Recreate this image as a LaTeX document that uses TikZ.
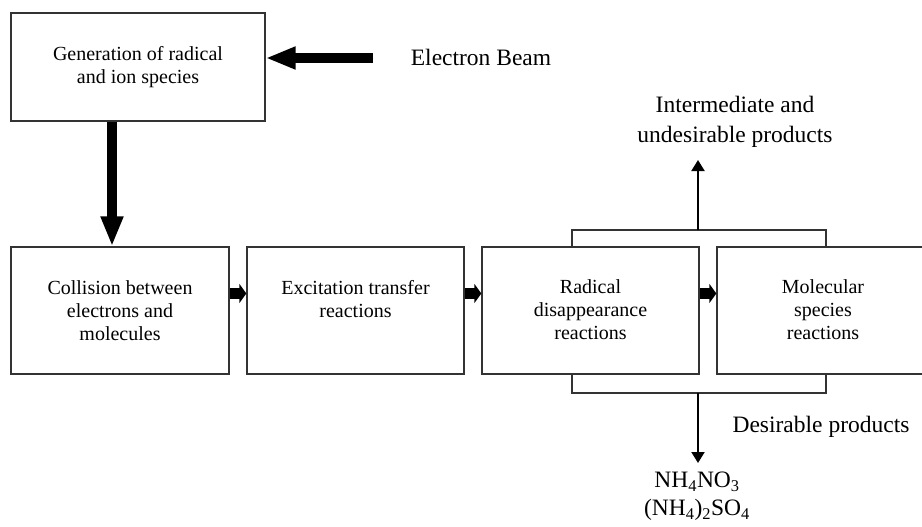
\documentclass[tikz,border=0pt]{standalone}
\usepackage{fontspec}
\setmainfont{Liberation Serif}
\usetikzlibrary{arrows.meta}

\begin{document}
\begin{tikzpicture}[x=1pt,y=-1pt,
  box/.style={draw=black!80,line width=1.3pt,inner sep=0pt},
  boxtext/.style={anchor=north,inner sep=0pt,align=center,font=\fontsize{20}{23}\selectfont},
  label/.style={inner sep=0pt,align=center,font=\fontsize{23.5}{30}\selectfont},
  bigarrow/.style={line width=10.5pt,-{Triangle[length=30pt,width=21pt]}},
  smallarrow/.style={line width=11pt,-{Triangle[length=7pt,width=19pt]}},
  thinline/.style={draw=black!80,line width=1.5pt},
  thinarrow/.style={line width=2pt,-{Triangle[length=11pt,width=13pt]}}]
\useasboundingbox (0,0) rectangle (922,527);

% boxes
\node[box,minimum width=254pt,minimum height=108pt] (GE) at (138,67) {};
\node[boxtext] (GEt) at (138,46) {Generation of radical\\and ion species};

\node[box,minimum width=218pt,minimum height=127pt] (CO) at (120,310.5) {};
\node[boxtext] (COt) at (120,280) {Collision between\\electrons and\\molecules};

\node[box,minimum width=217pt,minimum height=127pt] (EX) at (355.5,310.5) {};
\node[boxtext] (EXt) at (355.5,280) {Excitation transfer\\reactions};

\node[box,minimum width=217pt,minimum height=127pt] (RA) at (590.5,310.5) {};
\node[boxtext] (RAt) at (590.5,279) {Radical\\disappearance\\reactions};

\node[box,minimum width=209pt,minimum height=127pt] (MO) at (821.5,310.5) {};
\node[boxtext] (MOt) at (823,279) {Molecular\\species\\reactions};

% labels
\node[label] (EB) at (481,57) {Electron Beam};
\node[label] (IN) at (735,122) {Intermediate and\\undesirable products};
\node[label] (DE) at (821,427) {Desirable products};
\node[label,font=\fontsize{23.5}{28}\selectfont] (PR) at (697,496) {NH\textsubscript{4}NO\textsubscript{3}\\(NH\textsubscript{4})\textsubscript{2}SO\textsubscript{4}};

% helper points
\coordinate (beam) at (373,58);
\coordinate (drop) at (112,0);
\coordinate (row) at (0,293.5);
\coordinate (tl) at (572,230);
\coordinate (tr) at (826,230);
\coordinate (tm) at (698,230);
\coordinate (up) at (698,160);
\coordinate (bl) at (572,393);
\coordinate (br) at (826,393);
\coordinate (bm) at (698,393);
\coordinate (down) at (698,463);

% thick arrows
\draw[bigarrow] (beam) -- (GE.east |- beam);
\draw[bigarrow] (GE.south -| drop) -- (CO.north -| drop);
\draw[smallarrow] (CO.east |- row) -- (EX.west |- row);
\draw[smallarrow] (EX.east |- row) -- (RA.west |- row);
\draw[smallarrow] (RA.east |- row) -- (MO.west |- row);

% brackets
\draw[thinline] (RA.north -| tl) -- (tl) -- (tr) -- (MO.north -| tr);
\draw[thinline] (RA.south -| bl) -- (bl) -- (br) -- (MO.south -| br);
\draw[thinarrow] (tm) -- (up);
\draw[thinarrow] (bm) -- (down);

\end{tikzpicture}
\end{document}
